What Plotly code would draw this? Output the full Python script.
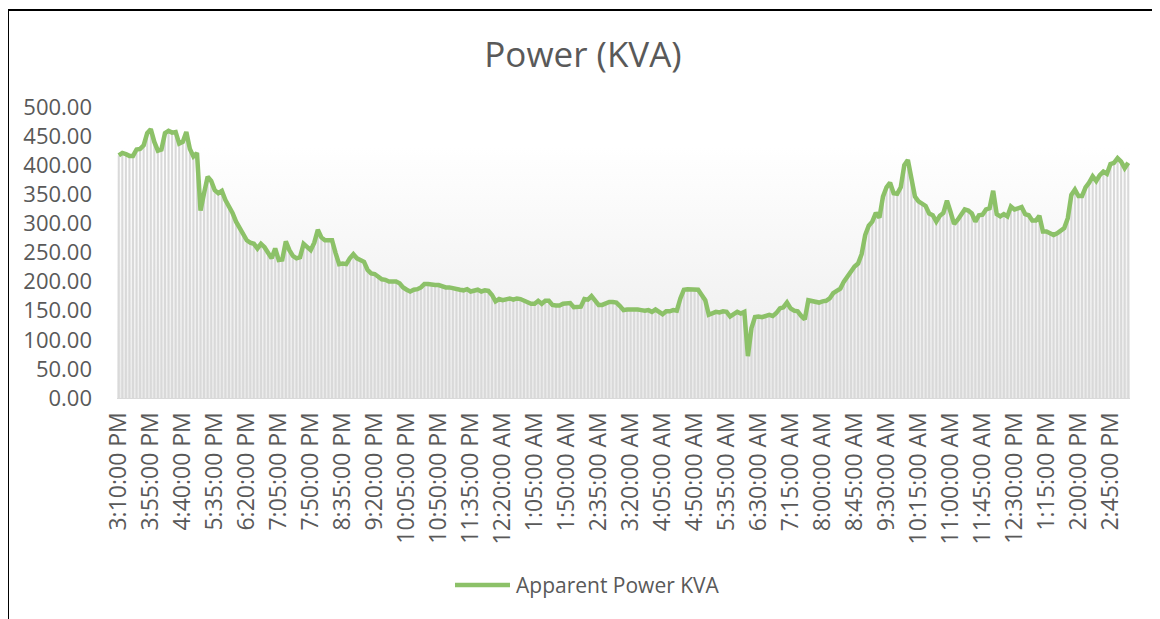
import plotly.graph_objects as go

# ---- data ----
tick_labels = [
    "3:10:00 PM", "3:55:00 PM", "4:40:00 PM", "5:35:00 PM", "6:20:00 PM", "7:05:00 PM",
    "7:50:00 PM", "8:35:00 PM", "9:20:00 PM", "10:05:00 PM", "10:50:00 PM", "11:35:00 PM",
    "12:20:00 AM", "1:05:00 AM", "1:50:00 AM", "2:35:00 AM", "3:20:00 AM", "4:05:00 AM",
    "4:50:00 AM", "5:35:00 AM", "6:30:00 AM", "7:15:00 AM", "8:00:00 AM", "8:45:00 AM",
    "9:30:00 AM", "10:15:00 AM", "11:00:00 AM", "11:45:00 AM", "12:30:00 PM", "1:15:00 PM",
    "2:00:00 PM", "2:45:00 PM",
]
label_every = 9  # one label per 9 readings

kva_part1 = [417, 421, 419, 416, 416, 427, 428, 434, 455, 462, 440, 425, 427, 455, 459, 456,
             457, 437, 440, 457, 428, 415, 421, 322, 352, 380, 373, 357, 352, 356, 340, 330,
             318, 303, 292, 284]
kva_part2 = [271, 267, 265, 257, 265, 259, 251, 240, 257, 237, 238, 269, 254, 244, 240, 242,
             265, 260, 254, 267, 289, 276, 271, 271, 271, 249, 230, 231, 230, 240, 247, 240,
             237, 234, 220, 214, 213]
kva_part3 = [208, 204, 203, 200, 200, 200, 197, 190, 186, 183, 186, 187, 190, 196, 196, 194,
             194, 194, 191, 190, 190, 188, 187, 186, 185, 187, 183, 184, 186, 183, 185, 184,
             177, 166, 170, 168, 169]
kva_part4 = [171, 169, 171, 170, 167, 163, 162, 162, 167, 162, 167, 167, 160, 159, 159, 162,
             162, 163, 156, 156, 157, 170, 169, 175, 167, 160, 160, 163, 165, 165, 164, 158,
             151, 152, 152, 153]
kva_part5 = [152, 151, 150, 151, 148, 152, 148, 144, 149, 149, 151, 150, 171, 186, 187, 187,
             187, 186, 177, 168, 143, 145, 148, 147, 149, 148, 140, 144, 148, 145, 148, 72,
             120, 139, 140]
kva_part6 = [139, 141, 143, 141, 146, 154, 156, 164, 154, 150, 149, 141, 135, 168, 167, 165,
             164, 166, 167, 171, 180, 184, 188, 200, 208, 219, 226, 231, 247, 280, 296, 303,
             318, 310, 346, 362, 370, 352]
kva_part7 = [351, 362, 400, 409, 375, 346, 338, 334, 330, 317, 314, 303, 313, 318, 339, 320,
             299, 306, 314, 324, 322, 317, 303, 314, 315, 324, 326, 356, 316, 312, 316, 312,
             329, 324, 326, 328, 316]
kva_part8 = [314, 305, 305, 313, 286, 286, 284, 280, 283, 287, 292, 309, 349, 358, 347, 347,
             362, 370, 381, 373, 383, 389, 385, 402, 404, 412, 406, 395, 404]

kva = (kva_part1 + kva_part2 + kva_part3 + kva_part4 + kva_part5 + kva_part6
       + kva_part7 + kva_part8)
n = len(kva)
idx = list(range(n))
tick_pos = list(range(0, n, label_every))[: len(tick_labels)]
series_name = "Apparent Power KVA"

# ---- styles / layout geometry (figure pixels) ----
TEXT = "#595959"
GREEN = "#8cc168"
FONT = "Open Sans"
GRAD_TOP = 432
W, H = 1160, 619
ML, MR, MT, MB = 109, 38, 99, 229
PW, PH = W - ML - MR, H - MT - MB


def px(fx):
    return (fx - ML) / PW


def py(fy):
    return (H - MB - fy) / PH


fig = go.Figure()

# plot-area gradient backdrop (base axes, drawn first)
fig.add_trace(go.Scatter(
    x=[-0.5, n - 0.5], y=[GRAD_TOP, GRAD_TOP], mode="lines", fill="tozeroy",
    line=dict(width=0, color="rgba(0,0,0,0)"),
    fillgradient=dict(type="vertical", colorscale=[[0, "#ebebeb"], [1, "#ffffff"]]),
    hoverinfo="skip", showlegend=False, xaxis="x", yaxis="y",
))

# vertical hatch lines under the curve (overlay axes, drawn above the backdrop)
fig.add_trace(go.Bar(
    x=idx, y=kva, width=0.58, marker=dict(color="#d9d9d9", line=dict(width=0)),
    hoverinfo="skip", showlegend=False, xaxis="x2", yaxis="y2",
))

fig.add_trace(go.Scatter(
    x=idx, y=kva, mode="lines", name=series_name, showlegend=False,
    line=dict(color=GREEN, width=4.5), xaxis="x2", yaxis="y2",
))

fig.update_layout(
    width=W, height=H,
    margin=dict(l=ML, r=MR, t=MT, b=MB),
    paper_bgcolor="white", plot_bgcolor="white",
    font=dict(family=FONT, color=TEXT, size=20),
    title=dict(text="Power (KVA)", font=dict(size=35, color=TEXT, family=FONT),
               x=575 / W, xanchor="center", xref="container",
               y=1 - 47 / H, yanchor="middle", yref="container"),
    showlegend=False,
    barmode="overlay",
    xaxis=dict(
        range=[-0.5, n - 0.5], tickmode="array", tickvals=tick_pos, ticktext=tick_labels,
        tickangle=-90, tickfont=dict(size=23, color=TEXT), showgrid=False, zeroline=False,
        showline=True, linecolor="#d9d9d9", linewidth=1, ticks="", ticklabelstandoff=4,
    ),
    yaxis=dict(
        range=[0, 500], dtick=50, tickformat=".2f", tickfont=dict(size=22, color=TEXT),
        showgrid=False, zeroline=False, showline=False, ticks="", ticklabelstandoff=24,
    ),
    xaxis2=dict(range=[-0.5, n - 0.5], overlaying="x", visible=False),
    yaxis2=dict(range=[0, 500], overlaying="y", visible=False),
)

# legend (drawn by hand so the key line matches the wide Excel key)
fig.add_shape(type="line", xref="paper", yref="paper",
              x0=px(447), x1=px(502), y0=py(577), y1=py(577),
              line=dict(color=GREEN, width=4.5))
fig.add_annotation(text=series_name, xref="paper", yref="paper",
                   x=px(506), y=py(577), xanchor="left", yanchor="middle",
                   showarrow=False, font=dict(size=21, color=TEXT, family=FONT))

# outer chart frame
fig.add_shape(type="rect", xref="paper", yref="paper",
              x0=px(0), x1=px(1149), y0=py(640), y1=py(2),
              line=dict(color="black", width=2), fillcolor="rgba(0,0,0,0)")

fig.write_html("out.html")
